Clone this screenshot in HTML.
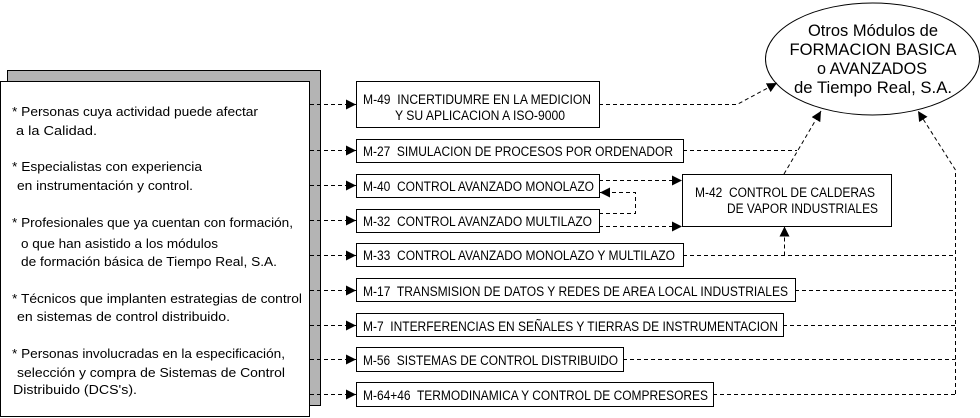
<!DOCTYPE html>
<html><head><meta charset="utf-8"><style>
html,body{margin:0;padding:0;background:#fff;}
svg{display:block;}
text{font-family:"Liberation Sans",Arial,sans-serif;fill:#000;white-space:pre;}
.l{font-size:13px;}
.b{font-size:13.5px;}
.e{font-size:16.5px;}
.d{stroke:#000;stroke-width:1;stroke-dasharray:4 3;fill:none;}
</style></head><body>
<svg width="980" height="418" viewBox="0 0 980 418" xmlns="http://www.w3.org/2000/svg">
<defs>
<marker id="ah" viewBox="0 0 10 10" refX="10" refY="5" markerWidth="10" markerHeight="10" markerUnits="userSpaceOnUse" orient="auto">
<path d="M0,0 L10,5 L0,10 z" fill="#000"/>
</marker>
</defs>

<!-- left panel -->
<rect x="7.5" y="70.5" width="313" height="335" fill="#b4b4b4" stroke="#000"/>
<rect x="0.5" y="81.5" width="309" height="335" fill="#fff" stroke="#000"/>

<text class="l" x="12" y="116" textLength="246" lengthAdjust="spacingAndGlyphs">* Personas cuya actividad puede afectar</text>
<text class="l" x="16" y="135" textLength="81" lengthAdjust="spacingAndGlyphs">a la Calidad.</text>
<text class="l" x="12" y="171" textLength="190" lengthAdjust="spacingAndGlyphs">* Especialistas con experiencia</text>
<text class="l" x="17" y="190" textLength="176" lengthAdjust="spacingAndGlyphs">en instrumentación y control.</text>
<text class="l" x="12" y="227" textLength="281" lengthAdjust="spacingAndGlyphs">* Profesionales que ya cuentan con formación,</text>
<text class="l" x="21" y="248" textLength="197" lengthAdjust="spacingAndGlyphs">o que han asistido a los módulos</text>
<text class="l" x="21" y="266" textLength="256" lengthAdjust="spacingAndGlyphs">de formación básica de Tiempo Real, S.A.</text>
<text class="l" x="12" y="303" textLength="290" lengthAdjust="spacingAndGlyphs">* Técnicos que implanten estrategias de control</text>
<text class="l" x="17" y="321" textLength="213" lengthAdjust="spacingAndGlyphs">en sistemas de control distribuido.</text>
<text class="l" x="12" y="358" textLength="273" lengthAdjust="spacingAndGlyphs">* Personas involucradas en la especificación,</text>
<text class="l" x="17" y="377" textLength="268" lengthAdjust="spacingAndGlyphs">selección y compra de Sistemas de Control</text>
<text class="l" x="13" y="394" textLength="124" lengthAdjust="spacingAndGlyphs">Distribuido (DCS's).</text>

<!-- left connectors -->
<line class="d" x1="310" y1="104.5" x2="356" y2="104.5" marker-end="url(#ah)"/>
<line class="d" x1="310" y1="150.5" x2="356" y2="150.5" marker-end="url(#ah)"/>
<line class="d" x1="310" y1="185.5" x2="356" y2="185.5" marker-end="url(#ah)"/>
<line class="d" x1="310" y1="220.5" x2="356" y2="220.5" marker-end="url(#ah)"/>
<line class="d" x1="310" y1="255.5" x2="356" y2="255.5" marker-end="url(#ah)"/>
<line class="d" x1="310" y1="290.5" x2="356" y2="290.5" marker-end="url(#ah)"/>
<line class="d" x1="310" y1="325.5" x2="356" y2="325.5" marker-end="url(#ah)"/>
<line class="d" x1="310" y1="359.5" x2="356" y2="359.5" marker-end="url(#ah)"/>
<line class="d" x1="310" y1="394.5" x2="356" y2="394.5" marker-end="url(#ah)"/>

<!-- boxes -->
<g fill="#fff" stroke="#000" stroke-width="1">
<rect x="356.5" y="81.5" width="243" height="46"/>
<rect x="356.5" y="139.5" width="327" height="23"/>
<rect x="356.5" y="174.5" width="243" height="23"/>
<rect x="356.5" y="209.5" width="243" height="23"/>
<rect x="356.5" y="243.5" width="327" height="23"/>
<rect x="356.5" y="278.5" width="439" height="23"/>
<rect x="356.5" y="313.5" width="427" height="23"/>
<rect x="356.5" y="347.5" width="267" height="24"/>
<rect x="356.5" y="382.5" width="357" height="24"/>
<rect x="682.5" y="174.5" width="209" height="52"/>
</g>

<text class="b" x="363" y="104" textLength="228" lengthAdjust="spacingAndGlyphs">M-49  INCERTIDUMRE EN LA MEDICION</text>
<text class="b" x="395" y="120" textLength="170" lengthAdjust="spacingAndGlyphs">Y SU APLICACION A ISO-9000</text>
<text class="b" x="363" y="156" textLength="310" lengthAdjust="spacingAndGlyphs">M-27  SIMULACION DE PROCESOS POR ORDENADOR</text>
<text class="b" x="363" y="191" textLength="231" lengthAdjust="spacingAndGlyphs">M-40  CONTROL AVANZADO MONOLAZO</text>
<text class="b" x="363" y="226" textLength="229" lengthAdjust="spacingAndGlyphs">M-32  CONTROL AVANZADO MULTILAZO</text>
<text class="b" x="363" y="260" textLength="312" lengthAdjust="spacingAndGlyphs">M-33  CONTROL AVANZADO MONOLAZO Y MULTILAZO</text>
<text class="b" x="363" y="296" textLength="425" lengthAdjust="spacingAndGlyphs">M-17  TRANSMISION DE DATOS Y REDES DE AREA LOCAL INDUSTRIALES</text>
<text class="b" x="363" y="331" textLength="415" lengthAdjust="spacingAndGlyphs">M-7  INTERFERENCIAS EN SEÑALES Y TIERRAS DE INSTRUMENTACION</text>
<text class="b" x="363" y="365" textLength="255" lengthAdjust="spacingAndGlyphs">M-56  SISTEMAS DE CONTROL DISTRIBUIDO</text>
<text class="b" x="363" y="400" textLength="345" lengthAdjust="spacingAndGlyphs">M-64+46  TERMODINAMICA Y CONTROL DE COMPRESORES</text>
<text class="b" x="695" y="197" textLength="180" lengthAdjust="spacingAndGlyphs">M-42  CONTROL DE CALDERAS</text>
<text class="b" x="727" y="213" textLength="151" lengthAdjust="spacingAndGlyphs">DE VAPOR INDUSTRIALES</text>

<!-- ellipse -->
<ellipse cx="872.5" cy="59" rx="107" ry="56" fill="#fff" stroke="#000"/>
<text class="e" x="873" y="36" text-anchor="middle" textLength="130" lengthAdjust="spacingAndGlyphs">Otros Módulos de</text>
<text class="e" x="873" y="55" text-anchor="middle" textLength="167" lengthAdjust="spacingAndGlyphs">FORMACION BASICA</text>
<text class="e" x="872" y="74" text-anchor="middle" textLength="110" lengthAdjust="spacingAndGlyphs">o AVANZADOS</text>
<text class="e" x="873" y="93" text-anchor="middle" textLength="158" lengthAdjust="spacingAndGlyphs">de Tiempo Real, S.A.</text>

<!-- right connectors -->
<polyline class="d" points="599,104.5 737,104.5 777,83" marker-end="url(#ah)"/>
<line class="d" x1="683" y1="150.5" x2="797" y2="150.5"/>
<line class="d" x1="784" y1="174" x2="821" y2="111" marker-end="url(#ah)"/>
<line class="d" x1="599" y1="180.5" x2="682" y2="180.5" marker-end="url(#ah)"/>
<line class="d" x1="599" y1="226.5" x2="682" y2="226.5" marker-end="url(#ah)"/>
<polyline class="d" points="599,213.5 635.5,213.5 635.5,192.5 600,192.5" marker-end="url(#ah)"/>
<line class="d" x1="683" y1="255.5" x2="955.5" y2="255.5"/>
<line class="d" x1="784.5" y1="255.5" x2="784.5" y2="226.5" marker-end="url(#ah)"/>
<line class="d" x1="795" y1="290.5" x2="955.5" y2="290.5"/>
<line class="d" x1="783" y1="325.5" x2="955.5" y2="325.5"/>
<line class="d" x1="623" y1="359.5" x2="955.5" y2="359.5"/>
<line class="d" x1="713" y1="394.5" x2="955.5" y2="394.5"/>
<polyline class="d" points="955.5,394 955.5,170 918,111" marker-end="url(#ah)"/>
</svg>
</body></html>
